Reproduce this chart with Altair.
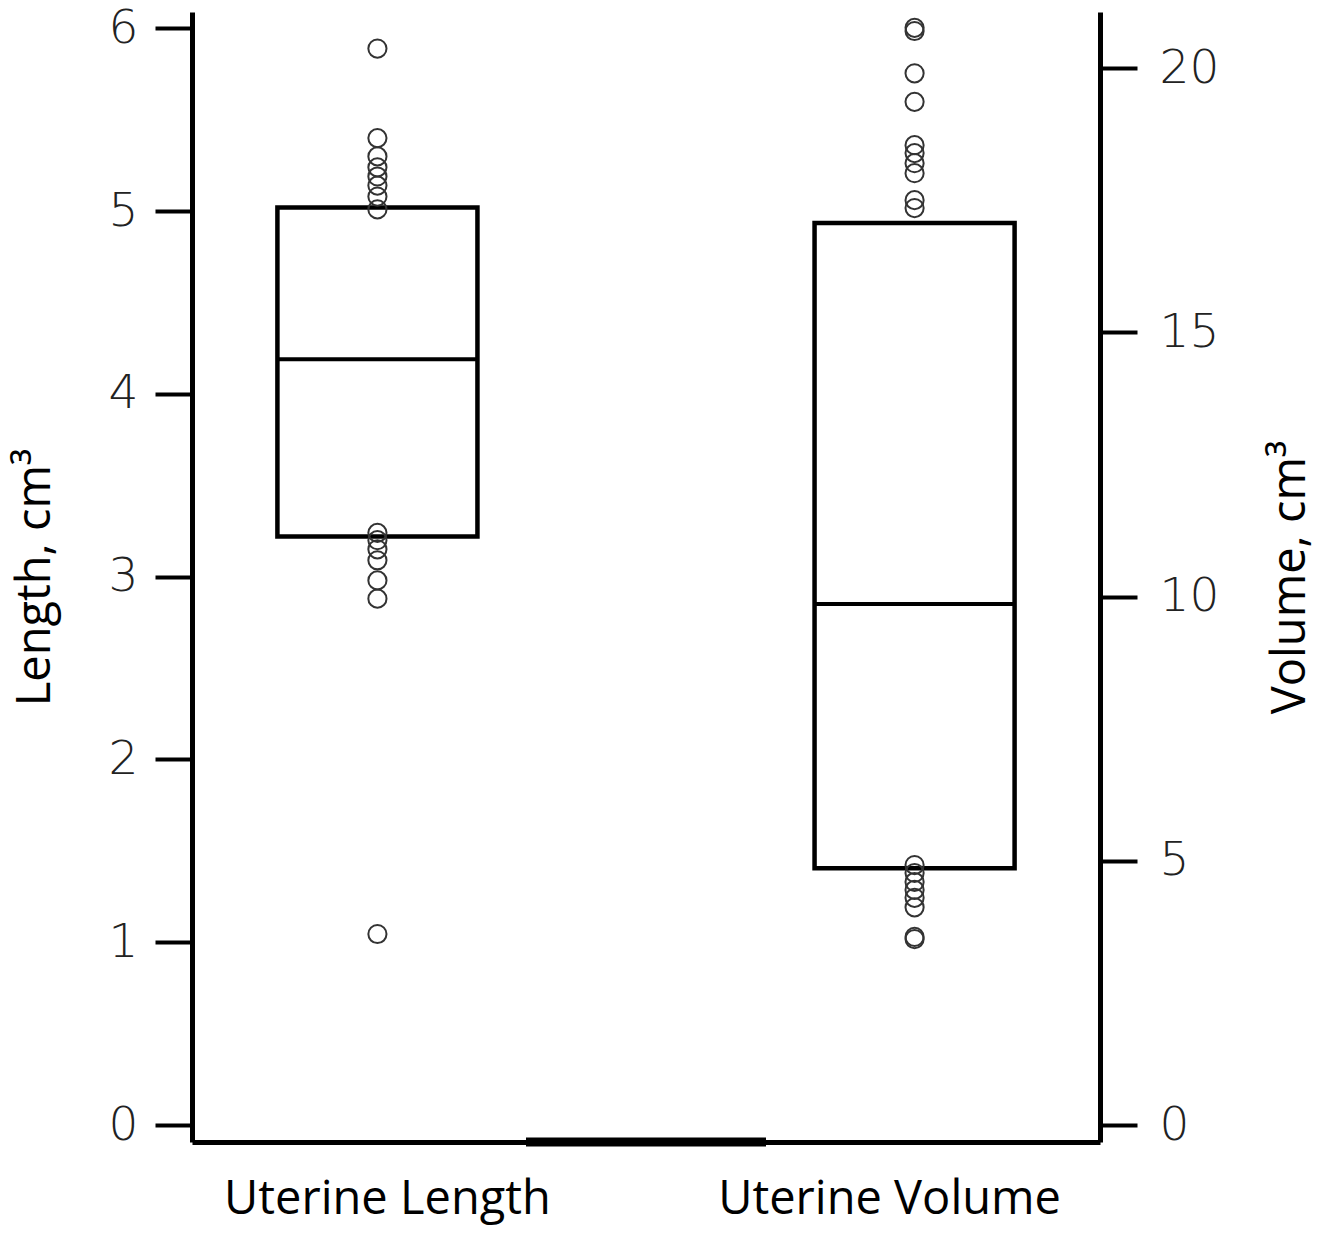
import altair as alt
import pandas as pd

categories = ["Uterine Length", "Uterine Volume"]

# box statistics
length_q1, length_median, length_q3 = 3.22, 4.19, 5.02
volume_q1, volume_median, volume_q3 = 4.86, 9.86, 17.07

# outlying points
length_points = [5.89, 5.40, 5.30, 5.24, 5.19, 5.14, 5.08, 5.01,
                 3.24, 3.20, 3.15, 3.09, 2.98, 2.88, 1.045]
volume_points = [20.76, 20.70, 19.90, 19.36, 18.54, 18.39, 18.20, 18.01,
                 17.50, 17.35, 4.92, 4.77, 4.60, 4.45, 4.30, 4.12, 3.56, 3.52]

length_ticks = [0, 1, 2, 3, 4, 5, 6]
volume_ticks = [0, 5, 10, 15, 20]

box_l = pd.DataFrame({"cat": [categories[0]], "q1": [length_q1], "med": [length_median], "q3": [length_q3]})
box_v = pd.DataFrame({"cat": [categories[1]], "q1": [volume_q1], "med": [volume_median], "q3": [volume_q3]})
pts_l = pd.DataFrame({"cat": categories[0], "val": length_points})
pts_v = pd.DataFrame({"cat": categories[1], "val": volume_points})

x_scale = alt.Scale(domain=categories, paddingInner=0.6276, paddingOuter=0.159)
x_enc = alt.X("cat:N", scale=x_scale, axis=alt.Axis(
    title=None, ticks=False, labelFont="Open Sans", labelFontSize=47,
    labelColor="black", labelPadding=34, labelAngle=0, labelLimit=0,
    labelOffset=alt.expr("datum.value === 'Uterine Length' ? 10 : -25"),
    domainWidth=5, domainColor="black"))

tick_font = "DejaVu Sans"

def yaxis(values, title, orient, label_pad, title_pad):
    return alt.Axis(values=values, orient=orient, grid=False, title=title,
                    tickSize=37, tickWidth=4, tickColor="black",
                    domainWidth=5, domainColor="black",
                    labelFont=tick_font, labelFontSize=47, labelFontWeight=200,
                    labelColor="#222222", labelPadding=label_pad,
                    titleFont="Open Sans", titleFontSize=47, titleFontWeight="normal",
                    titleColor="black", titlePadding=title_pad,
                    titleAngle=270)

ax_l = yaxis(length_ticks, "Length, cm³", "left", 17, 49)
ax_v = yaxis(volume_ticks, "Volume, cm³", "right", 22, 96)
sc_l = alt.Scale(domain=[-0.093, 6.09], nice=False, zero=False)
sc_v = alt.Scale(domain=[-0.32, 21.06], nice=False, zero=False)

def group(box_df, pts_df, sc, ax):
    box = alt.Chart(box_df).mark_bar(fill="white", stroke="black", strokeWidth=4.5).encode(
        x=x_enc, y=alt.Y("q1:Q", scale=sc, axis=ax), y2="q3:Q")
    med = alt.Chart(box_df).mark_tick(color="black", thickness=4, size=200, opacity=1).encode(
        x=x_enc, y=alt.Y("med:Q", scale=sc, axis=ax))
    pts = alt.Chart(pts_df).mark_point(shape="circle", filled=False, size=330,
                                        stroke="#333333", strokeWidth=2, opacity=1).encode(
        x=x_enc, y=alt.Y("val:Q", scale=sc, axis=ax))
    return alt.layer(box, med, pts)

left = group(box_l, pts_l, sc_l, ax_l)
right = group(box_v, pts_v, sc_v, ax_v)

# thick segment on the bottom axis line (decoration in the original)
seg = alt.Chart(pd.DataFrame({"a": [0]})).mark_rule(color="black", strokeWidth=9).encode(
    x=alt.value(334), x2=alt.value(574), y=alt.value(1130))

chart = alt.layer(left, right, seg).resolve_scale(y="independent").properties(
    width=908, height=1130,
    autosize=alt.AutoSizeParams(type="none"),
    padding={"left": 184, "top": 4, "right": 228, "bottom": 87}
).configure_view(stroke=None)

chart.save("out.html", embed_options={"renderer": "svg", "actions": False})
